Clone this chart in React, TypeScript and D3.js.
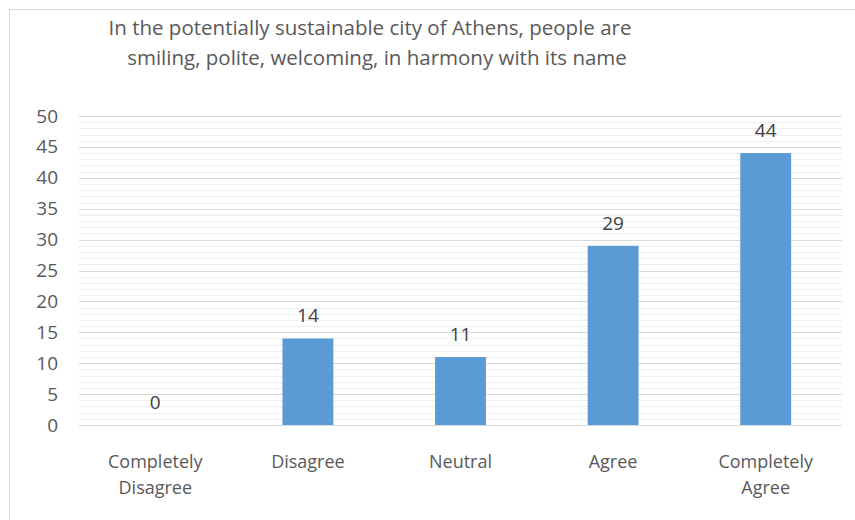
import React from "react";
import * as d3 from "d3";

const categories: string[][] = [
  ["Completely", "Disagree"],
  ["Disagree"],
  ["Neutral"],
  ["Agree"],
  ["Completely", "Agree"],
];
const values: number[] = [0, 14, 11, 29, 44];
const majorTicks: number[] = [0, 5, 10, 15, 20, 25, 30, 35, 40, 45, 50];
const minorTicks: number[] = d3.range(0, 51, 1).filter((v) => v % 5 !== 0);
const titleLines: string[] = [
  "In the potentially sustainable city of Athens, people are",
  "smiling, polite, welcoming, in harmony with its name",
];

const W = 855;
const H = 520;
const left = 79;
const right = 842;
const top = 116;
const bottom = 425;
const font = "'Open Sans', Lato, sans-serif";
const textColor = "#595959";

export default function App() {
  const x = d3
    .scaleBand<number>()
    .domain(d3.range(categories.length))
    .range([left, right])
    .padding(0);
  const y = d3.scaleLinear().domain([0, 50]).range([bottom, top]);
  const barW = x.bandwidth() / 3;
  const titleX = [370, 377];

  return (
    <svg
      width={W}
      height={H}
      style={{ position: "absolute", left: 0, top: 0, background: "#fff" }}
    >
      <rect x={0} y={0} width={W} height={H} fill="#fff" />
      <rect
        x={9.5}
        y={9.5}
        width={W + 20}
        height={H + 20}
        fill="none"
        stroke="#d9d9d9"
        strokeWidth={1}
      />
      {titleLines.map((t, i) => (
        <text
          key={i}
          x={titleX[i]}
          y={35 + i * 30}
          textAnchor="middle"
          fontFamily={font}
          fontSize={20.5}
          fill={textColor}
        >
          {t}
        </text>
      ))}
      {minorTicks.map((v) => (
        <line
          key={"m" + v}
          x1={left}
          x2={right}
          y1={Math.round(y(v)) + 0.5}
          y2={Math.round(y(v)) + 0.5}
          stroke="#eeeeee"
          strokeWidth={1}
        />
      ))}
      {majorTicks.map((v) => (
        <line
          key={"M" + v}
          x1={left}
          x2={right}
          y1={Math.round(y(v)) + 0.5}
          y2={Math.round(y(v)) + 0.5}
          stroke="#d9d9d9"
          strokeWidth={1}
        />
      ))}
      {majorTicks.map((v) => (
        <text
          key={"t" + v}
          x={58}
          y={y(v) + 6.5}
          textAnchor="end"
          fontFamily={font}
          fontSize={19}
          fill={textColor}
        >
          {v}
        </text>
      ))}
      {values.map((v, i) => {
        const cx = (x(i) as number) + x.bandwidth() / 2;
        return (
          <g key={"b" + i}>
            <rect
              x={cx - barW / 2}
              y={y(v)}
              width={barW}
              height={bottom - y(v)}
              fill="#5b9bd5"
            />
            <text
              x={cx}
              y={y(v) - 16}
              textAnchor="middle"
              fontFamily={font}
              fontSize={19}
              fill="#404040"
            >
              {v}
            </text>
            {categories[i].map((line, j) => (
              <text
                key={j}
                x={cx}
                y={468 + j * 26}
                textAnchor="middle"
                fontFamily={font}
                fontSize={18}
                fill={textColor}
              >
                {line}
              </text>
            ))}
          </g>
        );
      })}
    </svg>
  );
}
